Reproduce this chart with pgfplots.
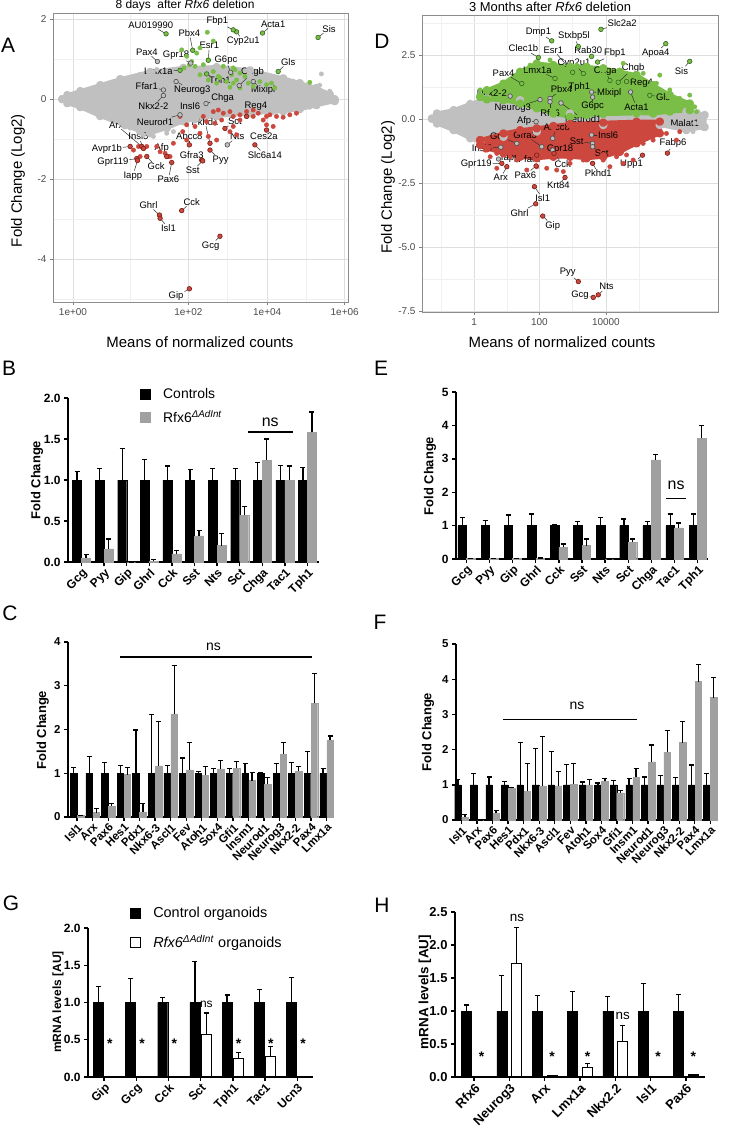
\documentclass[border=0pt]{standalone}
\usepackage{pgfplots}
\pgfplotsset{compat=1.18}
\usepackage{pgfplotstable}
\usepackage{fontspec}
\setmainfont{Liberation Sans}

\definecolor{ptgray}{RGB}{192,192,192}
\definecolor{ptgreen}{RGB}{122,190,72}
\definecolor{ptgreenD}{RGB}{50,105,30}
\definecolor{ptred}{RGB}{204,72,62}
\definecolor{ptredD}{RGB}{115,28,22}
\definecolor{bargray}{RGB}{160,160,160}

\newcommand\fs[1]{\fontsize{#1}{#1}\selectfont}

\tikzset{
 gl/.style={font=\fs{9.5}, inner sep=0.8bp, text=black},
 ll/.style={black!80, line width=0.5bp, shorten >=2bp},
}
% label with leader line: lx ly px py text
\newcommand\gl[5]{\node[gl] (t) at (axis cs:#1,#2) {#5}; \draw[ll] (t) -- (axis cs:#3,#4);}
\newcommand\gn[3]{\node[gl] at (axis cs:#1,#2) {#3};}

\pgfplotsset{
 ma/.style={
  scale only axis, clip=false, enlargelimits=false,
  axis background/.style={fill=white},
  grid=both,
  major grid style={black!13, line width=0.6bp},
  minor grid style={black!6, line width=0.45bp},
  axis line style={black!45, line width=0.7bp},
  tick style={black!50, line width=0.6bp},
  major tick length=3bp, minor tick length=0bp,
  tick align=outside, tick pos=left,
  ticklabel style={font=\fs{10}, text=black!70},
  every axis y label/.append style={font=\fs{15}},
  every axis x label/.append style={font=\fs{15}},
 },
 pts/.style={only marks, mark=*, mark size=2.2bp, color=#1, mark options={fill=#1, draw=#1}},
 lpts/.style 2 args={only marks, mark=*, mark size=2.3bp, color=#2, mark options={fill=#1, draw=#2, line width=0.6bp}},
 blob/.style={color=#1, fill=#1, line width=4bp, line join=round, mark=*, mark size=2.2bp, mark options={fill=#1, draw=#1}},
 sq/.style={legend image code/.code={\draw[##1, line width=0.9bp] (0bp,-5bp) rectangle (10bp,5bp); \path[draw=none, fill=none] (10bp,0bp) -- (21bp,0bp);}},
 gp/.style={
  scale only axis, clip=false, enlargelimits=false,
  axis x line*=bottom, axis y line*=left,
  axis line style={line width=1.6bp, -},
  every tick/.style={line width=1.4bp, black},
  major tick length=4bp, tick align=outside,
  ymin=0, ybar, xtick=data,
  xticklabel style={rotate=45, anchor=north east, inner sep=1bp},
  /pgf/number format/assume math mode=true,
  error bars/y dir=plus, error bars/y explicit,
  error bars/error bar style={line width=1.2bp, black},
  error bars/error mark options={rotate=90, mark size=2.5bp, line width=1.2bp, black},
  every axis y label/.append style={anchor=center},
 },
}

\pgfplotstableread{
x name c ce r re
0 Gcg 1 0.10 0.05 0.04
1 Pyy 1 0.14 0.16 0.12
2 Gip 1 0.38 0.00 0.00
3 Ghrl 1 0.25 0.01 0.02
4 Cck 1 0.17 0.10 0.04
5 Sst 1 0.13 0.32 0.06
6 Nts 1 0.14 0.20 0.15
7 Sct 1 0.14 0.57 0.11
8 Chga 1 0.21 1.24 0.26
9 Tac1 1 0.18 1.00 0.17
10 Tph1 1 0.15 1.58 0.25
}\tabB

\pgfplotstableread{
x name c ce r re
0 Gcg 1 0.25 0.01 0
1 Pyy 1 0.15 0.01 0
2 Gip 1 0.32 0.02 0
3 Ghrl 1 0.35 0.03 0
4 Cck 1 0.02 0.35 0.10
5 Sst 1 0.13 0.40 0.20
6 Nts 1 0.25 0.00 0
7 Sct 1 0.20 0.50 0.10
8 Chga 1 0.12 2.97 0.16
9 Tac1 1 0.35 0.93 0.15
10 Tph1 1 0.35 3.62 0.38
}\tabE

\pgfplotstableread{
x name c ce r re
0 Isl1 1 0.13 0.03 0.01
1 Arx 1 0.38 0.10 0.10
2 Pax6 1 0.24 0.25 0.05
3 Hes1 1 0.17 0.97 0.17
4 Pdx1 1 0.99 0.12 0.18
5 Nkx6-3 1 1.35 1.17 1.02
6 Ascl1 1 0.17 2.36 1.10
7 Fev 1 0.35 1.08 0.62
8 Atoh1 1 0.04 0.96 0.19
9 Sox4 1 0.11 1.10 0.19
10 Gfi1 1 0.11 1.12 0.14
11 Insm1 1 0.23 0.83 0.19
12 Neurod1 1 0.02 0.75 0.15
13 Neurog3 1 0.23 1.44 0.26
14 Nkx2-2 1 0.24 1.05 0.10
15 Pax4 1 0.50 2.60 0.68
16 Lmx1a 1 0.11 1.75 0.10
}\tabC

\pgfplotstableread{
x name c ce r re
0 Isl1 1 0.14 0.08 0.07
1 Arx 1 0.33 0.00 0.00
2 Pax6 1 0.22 0.20 0.07
3 Hes1 1 0.10 0.90 0.03
4 Pdx1 1 1.21 0.82 0.78
5 Nkx6-3 1 1.04 0.97 1.41
6 Ascl1 1 0.95 0.97 0.41
7 Fev 1 0.57 1.02 0.58
8 Atoh1 1 0.08 1.00 0.14
9 Sox4 1 0.05 1.10 0.09
10 Gfi1 1 0.12 0.77 0.07
11 Insm1 1 0.17 1.22 0.25
12 Neurod1 1 0.22 1.65 0.48
13 Neurog3 1 0.26 1.92 0.63
14 Nkx2-2 1 0.20 2.20 0.60
15 Pax4 1 0.56 3.93 0.49
16 Lmx1a 1 0.33 3.48 0.57
}\tabF

\pgfplotstableread{
x name c ce r re
0 Gip 1 0.22 0.005 0
1 Gcg 1 0.32 0.01 0
2 Cck 1 0.07 0.01 0
3 Sct 1 0.55 0.57 0.29
4 Tph1 1 0.10 0.25 0.08
5 Tac1 1 0.17 0.28 0.13
6 Ucn3 1 0.34 0.01 0
}\tabG

\pgfplotstableread{
x name c ce r re
0 Rfx6 1 0.09 0.005 0
1 Neurog3 1 0.54 1.72 0.55
2 Arx 1 0.24 0.02 0
3 Lmx1a 1 0.30 0.15 0.06
4 Nkx2.2 1 0.22 0.54 0.24
5 Isl1 1 0.42 0.005 0
6 Pax6 1 0.25 0.03 0.01
}\tabH

\begin{document}
\begin{tikzpicture}
\useasboundingbox (0,0) rectangle (737bp,-1141bp);
\fill[white] (0,0) rectangle (737bp,-1141bp);

% ---------------- Panel A ----------------
\begin{axis}[ma, at={(53bp,-13bp)}, anchor=north west, width=295bp, height=289bp,
 xmin=158, xmax=1045, ymin=-5.06, ymax=2.15,
 xtick={218,565,802,1035}, xticklabels={1e+00,1e+02,1e+04,1e+06},
 minor xtick={391,683,918},
 ytick={-4,-2,0,2}, yticklabels={-4,-2,0,2}, minor ytick={-5,-3,-1,1},
 xlabel={Means of normalized counts}, ylabel={Fold Change (Log2)},
 xlabel style={at={(axis description cs:0.498,-0.138)}, anchor=center},
 ylabel style={at={(axis description cs:-0.119,0.42)}, anchor=center},
]
\addplot[blob=ptgray] coordinates {(186,0) (201,0.1) (240,0.2) (300,0.35) (360,0.5) (450,0.68) (550,0.78) (650,0.8) (750,0.72) (850,0.52) (900,0.4) (950,0.28) (990,0.12) (1005,0) (1005,-0.05) (950,-0.15) (900,-0.25) (850,-0.3) (750,-0.35) (650,-0.42) (585,-0.5) (550,-0.55) (500,-0.72) (450,-0.85) (420,-0.8) (375,-0.65) (300,-0.42) (240,-0.2) (201,-0.1) (186,0)};
\addplot[pts=ptgray] coordinates {(965,0.63) (968,0.15) (940,-0.02) (910,-0.18) (925,0.05) (860,-0.27) (880,0.45) (960,0.35) (990,0.2) (360,-0.6) (390,-0.72) (430,-0.89) (460,-0.93) (500,-0.85) (520,-0.81) (330,0.28) (280,0.15) (420,0.62) (470,0.74) (210,0.06) (205,-0.08) (930,-0.2) (890,-0.3) (820,-0.33) (740,-0.4) (650,-0.47)};
\addplot[pts=ptgreen] coordinates {(545,1.23) (560,1.07) (575,0.94) (590,1.15) (610,0.86) (625,0.98) (640,0.69) (622,1.67) (660,0.53) (670,0.82) (680,0.44) (695,0.61) (700,0.4) (710,0.48) (720,0.65) (735,0.57) (745,0.4) (760,0.32) (780,0.44) (800,0.36) (815,0.4) (825,0.28) (585,0.82) (600,0.61) (650,0.4) (705,0.73) (690,0.3) (720,0.28) (625,0.48) (568,0.86) (552,0.78) (600,1.28) (930,0.42) (700,0.78) (655,0.57) (640,1.45)};
\addplot[pts=ptred] coordinates {(640,-0.31) (655,-0.27) (670,-0.35) (690,-0.31) (700,-0.43) (720,-0.39) (740,-0.31) (760,-0.27) (775,-0.35) (790,-0.52) (800,-0.43) (810,-0.39) (830,-0.43) (850,-0.45) (870,-0.39) (890,-0.35) (610,-0.43) (620,-0.56) (645,-0.6) (665,-0.52) (585,-0.68) (560,-0.64) (548,-0.81) (600,-0.85) (625,-0.93) (650,-1.02) (700,-0.68) (720,-0.52) (560,-1.02) (520,-1.1) (495,-1.35) (510,-1.43) (470,-1.18) (480,-1.31) (440,-1.18) (415,-1.18) (400,-1.27) (420,-1.43) (505,-1.43) (800,-0.64) (820,-0.68) (760,-0.43) (690,-0.81) (710,-0.89) (540,-0.43)};
\gl{452}{1.85}{498}{1.63}{AU019990}
\gl{652}{1.94}{710}{1.68}{Fbp1}
\gl{730}{1.44}{712}{1.66}{Cyp2u1}
\gl{820}{1.88}{788}{1.65}{Acta1}
\gl{988}{1.76}{955}{1.54}{Sis}
\gl{568}{1.65}{578}{1.22}{Pbx4}
\gl{628}{1.34}{625}{0.97}{Esr1}
\gl{440}{1.18}{472}{0.94}{Pax4}
\gl{528}{1.09}{572}{0.9}{Gpr18}
\gl{678}{0.98}{692}{0.67}{G6pc}
\gl{865}{0.93}{835}{0.69}{Gls}
\gl{475}{0.69}{540}{0.72}{Lmx1a}
\gl{758}{0.67}{718}{0.34}{Chgb}
\gl{660}{0.44}{620}{0.63}{Tph1}
\gl{440}{0.33}{490}{0.23}{Ffar1}
\gl{577}{0.23}{528}{0.44}{Neurog3}
\gl{790}{0.23}{760}{0.44}{Mixipl}
\gl{668}{0.03}{618}{-0.11}{Chga}
\gl{460}{-0.17}{490}{0.09}{Nkx2-2}
\gn{570}{-0.17}{Insl6}
\gl{768}{-0.18}{740}{-0.43}{Reg4}
\gl{465}{-0.56}{540}{-0.39}{Neurod1}
\gl{615}{-0.56}{630}{-1.1}{Pkhd1}
\gl{705}{-0.56}{675}{-0.73}{Sct}
\gl{348}{-0.64}{425}{-1.18}{Arx}
\gl{415}{-0.93}{430}{-1.23}{Insl5}
\gl{568}{-0.93}{568}{-1.14}{Abcc8}
\gl{712}{-0.93}{682}{-1.14}{Nts}
\gl{792}{-0.93}{800}{-0.77}{Ces2a}
\gl{320}{-1.25}{390}{-1.18}{Avpr1b}
\gl{485}{-1.23}{500}{-1.43}{Afp}
\gl{575}{-1.39}{605}{-1.52}{Gfra3}
\gl{795}{-1.39}{765}{-1.14}{Slc6a14}
\gl{662}{-1.53}{630}{-1.27}{Pyy}
\gl{338}{-1.58}{410}{-1.48}{Gpr119}
\gl{468}{-1.68}{440}{-1.43}{Gck}
\gl{578}{-1.78}{608}{-1.54}{Sst}
\gl{398}{-1.91}{412}{-1.53}{Iapp}
\gl{505}{-2.0}{515}{-1.58}{Pax6}
\gl{575}{-2.56}{545}{-2.78}{Cck}
\gl{445}{-2.64}{478}{-2.89}{Ghrl}
\gl{505}{-3.22}{480}{-2.97}{Isl1}
\gl{632}{-3.66}{660}{-3.42}{Gcg}
\gl{528}{-4.92}{568}{-4.73}{Gip}
\addplot[lpts={ptgreen}{ptgreenD}] coordinates {(498,1.63) (710,1.68) (700,1.73) (788,1.65) (955,1.54) (578,1.22) (625,0.97) (835,0.69) (540,0.72) (620,0.63)};
\addplot[lpts={ptgray}{black!70}] coordinates {(472,0.94) (572,0.9) (692,0.67) (718,0.34) (490,0.23) (528,0.44) (760,0.44) (618,-0.11) (490,0.09) (540,-0.39) (682,-1.14)};
\addplot[lpts={ptred}{ptredD}] coordinates {(740,-0.43) (630,-1.1) (675,-0.73) (425,-1.18) (430,-1.23) (568,-1.14) (800,-0.77) (390,-1.18) (500,-1.43) (605,-1.52) (765,-1.14) (630,-1.27) (410,-1.48) (440,-1.43) (608,-1.54) (412,-1.53) (515,-1.58) (545,-2.78) (478,-2.89) (480,-2.97) (660,-3.42) (568,-4.73)};
\end{axis}

% ---------------- Panel D ----------------
\begin{axis}[ma, at={(422bp,-15bp)}, anchor=north west, width=296bp, height=297bp,
 xmin=155, xmax=1045, ymin=-7.53, ymax=4.08,
 xtick={312,508,708}, xticklabels={1,100,10000},
 minor xtick={214,410,608,808},
 ytick={-7.5,-5,-2.5,0,2.5}, yticklabels={-7.5,-5.0,-2.5,0.0,2.5},
 minor ytick={-6.25,-3.75,-1.25,1.25,3.75},
 xlabel={Means of normalized counts}, ylabel={Fold Change (Log2)},
 xlabel style={at={(axis description cs:0.473,-0.101)}, anchor=center},
 ylabel style={at={(axis description cs:-0.115,0.42)}, anchor=center},
]
\addplot[blob=ptgray] coordinates {(185,0.03) (200,0.23) (250,0.36) (300,0.6) (350,0.82) (450,0.75) (600,0.23) (800,0.17) (950,0.3) (1005,0.17) (1005,-0.3) (950,-0.42) (870,-0.22) (700,-0.22) (500,-0.48) (400,-0.68) (330,-0.87) (300,-0.74) (250,-0.42) (200,-0.16) (185,0.03)};
\addplot[pts=ptgray] coordinates {(190,0.04) (985,0.3) (990,0.12) (1000,-0.35) (970,-0.48) (960,0.23) (1000,0.0) (975,-0.15) (940,0.15) (910,-0.3)};
\addplot[blob=ptgreen] coordinates {(330,0.88) (350,1.14) (400,1.4) (450,1.86) (500,2.18) (550,2.12) (600,2.05) (650,2.05) (700,1.99) (750,1.86) (800,1.73) (850,1.34) (900,0.95) (960,0.62) (960,0.36) (900,0.3) (850,0.23) (800,0.23) (700,0.21) (650,0.17) (600,0.1) (550,0.23) (500,0.43) (450,0.62) (400,0.75) (350,0.78) (330,0.88)};
\addplot[blob=ptred] coordinates {(330,-0.81) (400,-0.55) (450,-0.42) (500,-0.35) (550,-0.26) (600,-0.18) (700,-0.13) (800,-0.09) (870,-0.09) (870,-0.55) (800,-0.94) (750,-1.27) (700,-1.46) (650,-1.52) (600,-1.46) (550,-1.46) (500,-1.52) (450,-1.46) (400,-1.33) (350,-1.13) (330,-1.0) (330,-0.81)};
\addplot[pts=ptgreen] coordinates {(330,1.15) (360,1.15) (420,1.54) (480,2.12) (500,2.25) (540,2.32) (560,1.99) (580,1.67) (620,2.12) (650,1.93) (700,2.06) (760,2.19) (820,1.8) (860,1.41) (900,1.15) (930,0.82) (960,0.95) (975,0.49) (980,0.3) (870,1.73) (780,1.67)};
\addplot[pts=ptred] coordinates {(350,-1.13) (380,-1.33) (420,-1.46) (440,-1.59) (470,-1.98) (530,-1.91) (560,-1.98) (580,-2.04) (620,-1.33) (660,-1.46) (700,-1.59) (740,-1.46) (770,-1.39) (790,-1.59) (820,-0.94) (850,-0.81) (890,-0.55) (920,-0.81) (930,-0.48) (600,-1.72) (640,-1.59) (720,-1.85) (760,-1.72) (500,-1.85) (380,-1.91) (360,-1.46) (345,-1.2)};
\gl{757}{3.75}{693}{3.52}{Slc2a2}
\gl{505}{3.42}{545}{3.07}{Dmp1}
\gl{612}{3.26}{625}{2.85}{Stxbp5l}
\gl{655}{2.71}{665}{2.46}{Rab30}
\gl{460}{2.77}{505}{2.42}{Clec1b}
\gl{550}{2.71}{608}{1.84}{Esr1}
\gl{735}{2.58}{683}{2.24}{Fbp1}
\gl{858}{2.58}{888}{2.96}{Apoa4}
\gl{612}{2.19}{640}{1.79}{Cyp2u1}
\gl{935}{1.9}{960}{2.27}{Sis}
\gl{706}{1.9}{720}{1.52}{Chga}
\gl{790}{1.99}{745}{1.45}{Chgb}
\gl{815}{1.43}{770}{1.48}{Reg4}
\gl{400}{1.82}{455}{1.4}{Pax4}
\gl{502}{1.93}{555}{1.6}{Lmx1a}
\gl{575}{1.17}{540}{0.82}{Pbx4}
\gn{628}{1.25}{Tph1}
\gl{718}{1.02}{665}{1.07}{Mlxipl}
\gl{880}{0.87}{840}{0.94}{Gls}
\gl{365}{1.02}{420}{0.91}{Nkx2-2}
\gl{428}{0.43}{510}{0.77}{Neurog3}
\gl{668}{0.5}{668}{0.87}{G6pc}
\gl{800}{0.49}{782}{1.07}{Acta1}
\gl{540}{0.26}{540}{0.69}{Rfx6}
\gl{640}{0.0}{573}{0.64}{Neurod1}
\gl{462}{-0.05}{498}{-0.09}{Afp}
\gn{945}{-0.13}{Malat1}
\gl{560}{-0.31}{548}{-0.74}{Abcc8}
\gl{385}{-0.65}{440}{-0.94}{Gck}
\gl{465}{-0.61}{515}{-1.07}{Gfra3}
\gl{715}{-0.61}{665}{-0.61}{Insl6}
\gl{620}{-0.85}{668}{-0.94}{Sst}
\gl{910}{-0.94}{893}{-1.32}{Fabp6}
\gl{335}{-1.13}{392}{-1.09}{Insl5}
\gn{570}{-1.17}{Gpr18}
\gl{695}{-1.33}{668}{-1.07}{Sct}
\gl{420}{-1.53}{385}{-1.55}{Iapp}
\gl{478}{-1.56}{500}{-1.4}{Ffar1}
\gl{318}{-1.76}{395}{-1.72}{Gpr119}
\gl{785}{-1.76}{818}{-1.4}{Upp1}
\gl{578}{-1.76}{552}{-1.33}{Cck}
\gl{685}{-2.11}{668}{-1.72}{Pkhd1}
\gl{392}{-2.28}{410}{-1.85}{Arx}
\gl{466}{-2.17}{498}{-1.82}{Pax6}
\gl{565}{-2.57}{585}{-2.27}{Krt84}
\gl{518}{-3.09}{493}{-2.63}{Isl1}
\gl{448}{-3.65}{497}{-3.3}{Ghrl}
\gl{548}{-4.17}{518}{-3.78}{Gip}
\gl{593}{-5.99}{625}{-6.34}{Pyy}
\gl{710}{-6.54}{685}{-6.86}{Nts}
\gl{630}{-6.86}{670}{-6.96}{Gcg}
\addplot[lpts={ptgreen}{ptgreenD}] coordinates {(693,3.52) (545,3.07) (625,2.85) (665,2.46) (505,2.42) (608,1.84) (683,2.24) (888,2.96) (640,1.79) (960,2.27) (720,1.52) (745,1.45) (770,1.48) (455,1.4) (555,1.6) (840,0.94)};
\addplot[lpts={ptgray}{black!70}] coordinates {(540,0.82) (665,1.07) (420,0.91) (510,0.77) (668,0.87) (782,1.07) (540,0.69) (573,0.64) (498,-0.09) (548,-0.74) (440,-0.94) (515,-1.07) (665,-0.61) (668,-0.94) (392,-1.09) (548,-1.2) (668,-1.07) (385,-1.55)};
\addplot[lpts={ptred}{ptredD}] coordinates {(893,-1.32) (500,-1.4) (395,-1.72) (818,-1.4) (552,-1.33) (668,-1.72) (410,-1.85) (498,-1.82) (585,-2.27) (493,-2.63) (497,-3.3) (518,-3.78) (625,-6.34) (685,-6.86) (670,-6.96)};
\end{axis}

% ---------------- Panel B ----------------
\begin{axis}[gp, at={(68bp,-398bp)}, anchor=north west, width=251bp, height=164bp,
 xmin=-0.6, xmax=10.51, ymax=2, bar width=9bp, ybar=0bp,
 ytick={0,0.5,1,1.5,2}, yticklabel style={/pgf/number format/.cd, fixed, fixed zerofill, precision=1},
 ticklabel style={font=\fs{12}\bfseries},
 xticklabels from table={\tabB}{name},
 ylabel={Fold Change}, ylabel style={font=\fs{13}\bfseries, at={(axis description cs:-0.123,0.5)}},
 legend style={at={(0.285,1.07)}, anchor=north west, draw=none, fill=none, font=\fs{14}, row sep=6bp, cells={anchor=west}, inner sep=0pt},
]
\addplot[sq, fill=black, draw=black] table[x=x, y=c, y error=ce] {\tabB};
\addplot[sq, fill=bargray, draw=bargray] table[x=x, y=r, y error=re] {\tabB};
\addlegendentry{Controls}
\addlegendentry{Rfx6\textsuperscript{\textit{ΔAdInt}}}
\draw[line width=1.3bp] (axis cs:7.36,1.585) -- (axis cs:9.35,1.585);
\node[font=\fs{16}] at (axis cs:8.35,1.70) {ns};
\end{axis}

% ---------------- Panel E ----------------
\begin{axis}[gp, at={(456bp,-392bp)}, anchor=north west, width=252bp, height=167bp,
 xmin=-0.45, xmax=10.45, ymax=5, bar width=8.5bp, ybar=0bp,
 ytick={0,1,2,3,4,5},
 ticklabel style={font=\fs{12}\bfseries},
 xticklabels from table={\tabE}{name},
 ylabel={Fold Change}, ylabel style={font=\fs{13}\bfseries, at={(axis description cs:-0.103,0.497)}},
]
\addplot[fill=black, draw=black] table[x=x, y=c, y error=ce] {\tabE};
\addplot[fill=bargray, draw=bargray] table[x=x, y=r, y error=re] {\tabE};
\draw[line width=1.3bp] (axis cs:8.63,1.82) -- (axis cs:9.5,1.82);
\node[font=\fs{16}] at (axis cs:9.07,2.2) {ns};
\end{axis}

% ---------------- Panel C ----------------
\begin{axis}[gp, at={(68bp,-642bp)}, anchor=north west, width=264bp, height=175bp,
 xmin=-0.58, xmax=16.35, ymax=4, bar width=6.5bp, ybar=0.5bp,
 ytick={0,1,2,3,4},
 ticklabel style={font=\fs{11.5}\bfseries},
 xticklabels from table={\tabC}{name},
 ylabel={Fold Change}, ylabel style={font=\fs{13}\bfseries, at={(axis description cs:-0.095,0.497)}},
]
\addplot[fill=black, draw=black] table[x=x, y=c, y error=ce] {\tabC};
\addplot[fill=bargray, draw=bargray] table[x=x, y=r, y error=re] {\tabC};
\draw[line width=1.3bp] (axis cs:2.76,3.66) -- (axis cs:15.06,3.66);
\node[font=\fs{14}] at (axis cs:8.75,3.9) {ns};
\end{axis}

% ---------------- Panel F ----------------
\begin{axis}[gp, at={(456bp,-644bp)}, anchor=north west, width=261bp, height=176bp,
 xmin=-0.35, xmax=16.43, ymax=5, bar width=6.5bp, ybar=0.5bp,
 ytick={0,1,2,3,4,5},
 ticklabel style={font=\fs{11.5}\bfseries},
 xticklabels from table={\tabF}{name},
 ylabel={Fold Change}, ylabel style={font=\fs{13}\bfseries, at={(axis description cs:-0.107,0.5)}},
]
\addplot[fill=black, draw=black] table[x=x, y=c, y error=ce] {\tabF};
\addplot[fill=bargray, draw=bargray] table[x=x, y=r, y error=re] {\tabF};
\draw[line width=1.3bp] (axis cs:2.67,2.85) -- (axis cs:11.3,2.85);
\node[font=\fs{14}] at (axis cs:7.43,3.25) {ns};
\end{axis}

% ---------------- Panel G ----------------
\begin{axis}[gp, at={(88bp,-928bp)}, anchor=north west, width=225bp, height=149bp,
 xmin=-0.5, xmax=6.49, ymax=2, bar width=10bp, ybar=1.5bp,
 ytick={0,0.5,1,1.5,2}, yticklabel style={/pgf/number format/.cd, fixed, fixed zerofill, precision=1},
 ticklabel style={font=\fs{12}\bfseries},
 xticklabels from table={\tabG}{name},
 ylabel={mRNA levels [AU]}, ylabel style={font=\fs{12}\bfseries, at={(axis description cs:-0.133,0.503)}},
 legend style={at={(0.185,1.155)}, anchor=north west, draw=none, fill=none, font=\fs{14.5}, row sep=12bp, cells={anchor=west}, inner sep=0pt},
]
\addplot[sq, fill=black, draw=black] table[x=x, y=c, y error=ce] {\tabG};
\addplot[sq, fill=white, draw=black, line width=1.2bp] table[x=x, y=r, y error=re] {\tabG};
\addlegendentry{Control organoids}
\addlegendentry{\textit{Rfx6}\textsuperscript{\textit{ΔAdInt}} organoids}
\pgfplotsinvokeforeach{0,1,2,4,5,6}{\node[font=\fs{14}\bfseries] at (axis cs:#1,0.45) [xshift=5.75bp] {*};}
\node[font=\fs{12}] at (axis cs:3,0.97) [xshift=5.75bp] {ns};
\end{axis}

% ---------------- Panel H ----------------
\begin{axis}[gp, at={(455bp,-912bp)}, anchor=north west, width=250bp, height=165bp,
 xmin=-0.54, xmax=6.54, ymax=2.5, bar width=10bp, ybar=5bp,
 ytick={0,0.5,1,1.5,2,2.5}, yticklabel style={/pgf/number format/.cd, fixed, fixed zerofill, precision=1},
 ticklabel style={font=\fs{13}\bfseries},
 xticklabels from table={\tabH}{name},
 ylabel={mRNA levels [AU]}, ylabel style={font=\fs{13.5}\bfseries, at={(axis description cs:-0.12,0.515)}},
]
\addplot[fill=black, draw=black] table[x=x, y=c, y error=ce] {\tabH};
\addplot[fill=white, draw=black, line width=1.2bp] table[x=x, y=r, y error=re] {\tabH};
\pgfplotsinvokeforeach{0,2,3,5,6}{\node[font=\fs{14}\bfseries] at (axis cs:#1,0.31) [xshift=7.5bp] {*};}
\node[font=\fs{13.5}] at (axis cs:1,2.41) [xshift=7.5bp] {ns};
\node[font=\fs{13.5}] at (axis cs:4,0.93) [xshift=7.5bp] {ns};
\end{axis}

% ---------------- titles and panel letters ----------------
\node[font=\fs{12}] at (185bp,-5.5bp) {8 days\ \ after \textit{Rfx6} deletion};
\node[font=\fs{13}] at (550bp,-6.5bp) {3 Months after \textit{Rfx6} deletion};
\node[font=\fs{21}] at (8bp,-45bp) {A};
\node[font=\fs{21}] at (382bp,-41bp) {D};
\node[font=\fs{21}] at (9bp,-368bp) {B};
\node[font=\fs{21}] at (381bp,-368bp) {E};
\node[font=\fs{21}] at (10bp,-613bp) {C};
\node[font=\fs{21}] at (380bp,-622bp) {F};
\node[font=\fs{21}] at (11bp,-903bp) {G};
\node[font=\fs{21}] at (382bp,-905bp) {H};
\end{tikzpicture}
\end{document}
